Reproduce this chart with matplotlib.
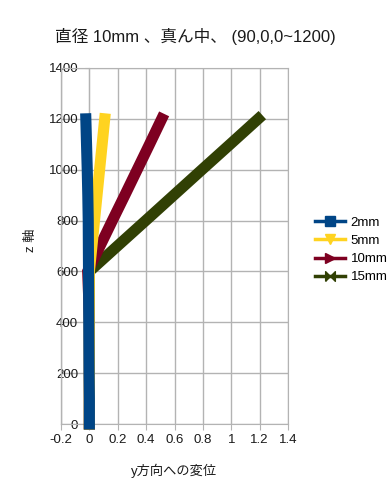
import matplotlib
matplotlib.use('Agg')
import matplotlib.pyplot as plt
from matplotlib.lines import Line2D

plt.rcParams['font.family'] = ['Liberation Sans', 'Noto Sans CJK JP']

# ── データ (z 位置 と y方向への変位)
Z = [0, 100, 200, 300, 400, 500, 600, 700, 800, 900, 1000, 1100, 1200]
D2 = [0.0, 0.0, -0.002, -0.003, -0.004, -0.005, -0.006, -0.007, -0.008, -0.011, -0.015, -0.020, -0.025]
D5 = [0.0, 0.0, 0.0, 0.0, 0.0, 0.0, 0.0, 0.018, 0.036, 0.054, 0.072, 0.090, 0.108]
D10 = [0.0, 0.0, 0.0, 0.0, 0.0, -0.005, -0.012, 0.075, 0.162, 0.250, 0.337, 0.424, 0.510]
D15 = [0.0, 0.0, 0.0, 0.0, 0.0, 0.0, 0.0, 0.198, 0.397, 0.595, 0.793, 0.992, 1.190]

LABELS = ['2mm', '5mm', '10mm', '15mm']
XTICKS = [-0.2, 0, 0.2, 0.4, 0.6, 0.8, 1, 1.2, 1.4]
XTICKLABELS = ['-0.2', '0', '0.2', '0.4', '0.6', '0.8', '1', '1.2', '1.4']
YTICKS = [0, 200, 400, 600, 800, 1000, 1200, 1400]

COLORS = ['#004586', '#ffd320', '#7e0021', '#314004']
BOWTIE = [(-1, -1), (-1, 1), (0, 0), (1, 1), (1, -1), (0, 0), (-1, -1)]
MARKERS = ['s', 'v', '>', BOWTIE]
GRID = '#b3b3b3'

fig = plt.figure(figsize=(3.91, 4.98), dpi=100)
ax = fig.add_axes([61 / 391, 1 - 424 / 498, 227 / 391, 356 / 498])

series = [D2, D5, D10, D15]
# 密なマーカーで太い帯に見えるので太線で描く (2mm が一番上)
for i in [3, 2, 1, 0]:
    ax.plot(series[i], Z, color=COLORS[i], linewidth=8,
            solid_capstyle='projecting', solid_joinstyle='miter',
            clip_on=False, zorder=3 + (3 - i))

ax.set_xlim(-0.2, 1.4)
ax.set_ylim(0, 1400)
ax.set_xticks(XTICKS)
ax.set_xticklabels(XTICKLABELS)
ax.set_yticks(YTICKS)
ax.grid(True, color=GRID, linewidth=1)
ax.set_axisbelow(True)

for s in ['top', 'right', 'bottom']:
    ax.spines[s].set_color(GRID)
ax.spines['left'].set_position(('data', 0))
ax.spines['left'].set_color(GRID)
ax.axvline(-0.2, color=GRID, linewidth=1, clip_on=False)

ax.tick_params(axis='x', colors=GRID, labelcolor='#1a1a1a', labelsize=9.5,
               length=4, pad=3)
ax.tick_params(axis='y', colors=GRID, labelcolor='#1a1a1a', labelsize=9.5,
               length=3, pad=5)

fig.text(0.5, 1 - 36 / 498, '直径 10mm 、真ん中、 (90,0,0~1200)',
         ha='center', va='center', fontsize=12, color='#1a1a1a')
fig.text(174 / 391, 1 - 471 / 498, 'y方向への変位', ha='center', va='center',
         fontsize=9.5, color='#1a1a1a')
fig.text(31 / 391, 1 - 240 / 498, 'z 軸', ha='center', va='center',
         rotation=90, fontsize=9.5, color='#1a1a1a')

handles = [Line2D([0], [0], color=COLORS[i], linewidth=2.5, marker=MARKERS[i],
                  markersize=7) for i in range(4)]
fig.legend(handles, LABELS, loc='center left',
           bbox_to_anchor=(303 / 391, 1 - 250 / 498), frameon=False,
           fontsize=9.5, handlelength=2.3, handletextpad=0.4, labelspacing=0.45)

fig.savefig('out.png', dpi=100)
